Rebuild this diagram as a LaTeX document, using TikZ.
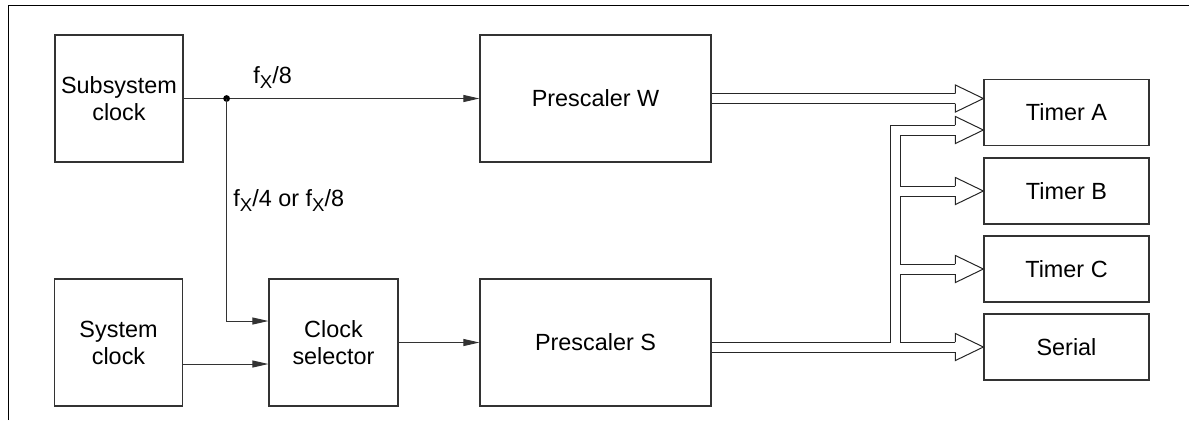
\documentclass[tikz,border=0pt]{standalone}
\usepackage{fontspec}
\setmainfont{Liberation Sans}
\usetikzlibrary{arrows.meta,calc}
\newcommand{\fX}{f\raisebox{-2.5pt}{\fontsize{9.3pt}{11pt}\selectfont X}}
\begin{document}
\begin{tikzpicture}[x=0.5pt,y=-0.5pt,
	blk/.style={draw=black!80,line width=0.6pt,align=center,inner sep=0pt,font=\fontsize{11.7pt}{13.5pt}\selectfont},
	clkbox/.style={blk,minimum width=64pt,minimum height=63.5pt},
	prebox/.style={blk,minimum width=115.5pt,minimum height=63.5pt},
	tmrbox/.style={blk,minimum width=82.5pt,minimum height=33pt},
	sig/.style={draw=black!80,line width=0.5pt,-{Triangle[length=8pt,width=3.5pt]}},
	bus/.style={draw=black!85,line width=0.5pt,double=white,double distance=4.5pt,line join=miter},
	head/.style={draw=black!85,line width=0.5pt,line join=miter},
	lbl/.style={anchor=base west,inner sep=0pt,font=\fontsize{11.7pt}{13.5pt}\selectfont}]
	\useasboundingbox (0,0) rectangle (1189,420);
	\draw[line width=0.5pt] (8,420) -- (8,5) -- (1189,5);
	% clocks and prescalers
	\node[clkbox] (subclk) at (119,98.5) {Subsystem\\clock};
	\node[clkbox] (sysclk) at (118.5,342.5) {System\\clock};
	\node[clkbox,minimum width=64.5pt] (clksel) at (333.5,342.5) {Clock\\selector};
	\node[prebox] (prew) at (595.5,98.5) {Prescaler W};
	\node[prebox] (pres) at (595.5,342.5) {Prescaler S};
	% timers
	\node[tmrbox] (tmra) at (1066.5,112.5) {Timer A};
	\node[tmrbox] (tmrb) at (1066.5,191) {Timer B};
	\node[tmrbox] (tmrc) at (1066.5,269) {Timer C};
	\node[tmrbox] (ser) at (1066.5,347) {Serial};
	% thin signal lines
	\coordinate (dot) at ($(subclk.east)+(43,0)$);
	\draw[sig] (subclk.east) -- (prew.west);
	\fill[black] (dot) circle[radius=1.7pt];
	\draw[sig] (dot) |- ($(clksel.west)+(0,-21.5)$);
	\draw[sig] ($(sysclk.east)+(0,21.5)$) -- ($(clksel.west)+(0,21.5)$);
	\draw[sig] (clksel.east) -- (pres.west);
	\node[lbl] (fw) at (253,83) {\fX/8};
	\node[lbl] (fs) at (233,206) {\fX/4 or \fX/8};
	% hollow bus arrows
	\coordinate (tA1) at (prew.east -| tmra.west);
	\coordinate (tA2) at ($(tmra.west)+(0,17.5)$);
	\coordinate (tB) at (tmrb.west);
	\coordinate (tC) at (tmrc.west);
	\coordinate (tS) at (ser.west);
	\draw[bus] ([xshift=0.3pt]prew.east) -- ($(tA1)+(-28,0)$)
		([xshift=0.3pt]pres.east |- tS) -- ($(tS)+(-28,0)$)
		(895.5,347) -- (895.5,130) -- ($(tA2)+(-28,0)$)
		(895.5,191) -- ($(tB)+(-28,0)$)
		(895.5,269) -- ($(tC)+(-28,0)$);
	\foreach \t in {tA1,tA2,tB,tC,tS}
		\draw[head] ($(\t)+(-28,-5)$) -- ++(0,-8.5) -- ++(28,13.5) -- ++(-28,13.5) -- ++(0,-8.5);
\end{tikzpicture}
\end{document}
